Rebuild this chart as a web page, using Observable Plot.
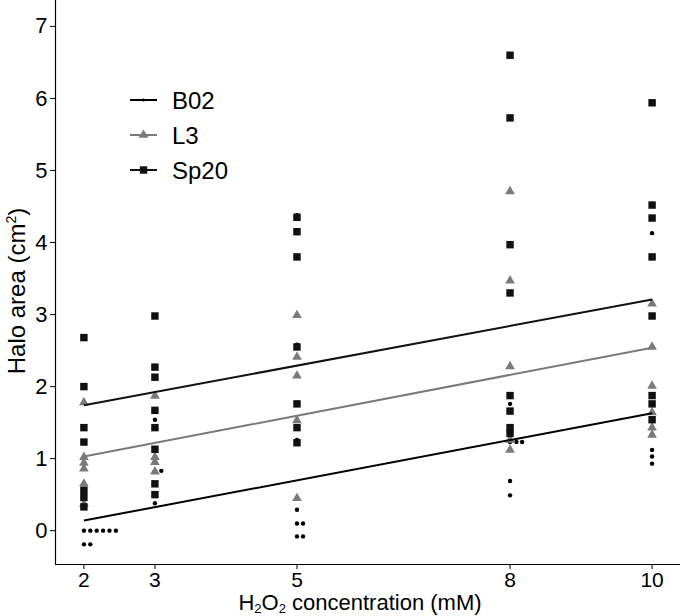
<!DOCTYPE html>
<html><head><meta charset="utf-8">
<script src="https://cdn.jsdelivr.net/npm/d3@7"></script>
<script src="https://cdn.jsdelivr.net/npm/@observablehq/plot@0.6"></script>
<style>body{margin:0;background:#fff} svg{display:block}</style>
</head><body><div id="chart"></div>
<script>
// concentrations (tick labels)
const concentrations = [2, 3, 5, 8, 10];
const yTicks = [0, 1, 2, 3, 4, 5, 6, 7];

// B02 (small dots) - repeated values are shown side by side
const b02X = [2, 2.09, 2.18, 2.27, 2.36, 2.45, 2, 2.09,
              3, 3, 3.09, 3,
              5, 5, 5, 5, 5, 5.085, 5, 5.085,
              8, 8, 8.09, 8.17, 8, 8,
              10, 10, 10, 10];
const b02Y = [0, 0, 0, 0, 0, 0, -0.19, -0.19,
              1.54, 0.83, 0.83, 0.38,
              4.38, 2.58, 1.26, 0.29, 0.10, 0.10, -0.08, -0.08,
              1.76, 1.23, 1.23, 1.23, 0.69, 0.49,
              4.13, 1.12, 1.03, 0.93];

// L3 (grey triangles)
const l3X = [2, 2, 2, 2, 2, 2,
             3, 3, 3, 3,
             5, 5, 5, 5, 5,
             8, 8, 8, 8, 8,
             10, 10, 10, 10, 10, 10];
const l3Y = [1.78, 1.02, 0.94, 0.86, 0.65, 0.37,
             1.87, 1.02, 0.95, 0.82,
             2.99, 2.41, 2.15, 1.53, 0.45,
             4.71, 3.47, 2.28, 1.26, 1.12,
             3.15, 2.55, 2.01, 1.64, 1.43, 1.33];

// Sp20 (black squares)
const sp20X = [2, 2, 2, 2, 2, 2, 2,
               3, 3, 3, 3, 3, 3, 3, 3,
               5, 5, 5, 5, 5, 5, 5,
               8, 8, 8, 8, 8, 8, 8, 8,
               10, 10, 10, 10, 10, 10, 10, 10];
const sp20Y = [2.68, 2.0, 1.43, 1.23, 0.56, 0.46, 0.33,
               2.98, 2.27, 2.13, 1.67, 1.43, 1.13, 0.65, 0.50,
               4.35, 4.15, 3.80, 2.55, 1.76, 1.43, 1.22,
               6.6, 5.73, 3.97, 3.30, 1.875, 1.66, 1.43, 1.35,
               5.94, 4.52, 4.34, 3.80, 2.98, 1.875, 1.76, 1.54];

// fitted regression lines (value at 2 mM and at 10 mM)
const strains = ["B02", "L3", "Sp20"];
const fitAt2 = [0.14, 1.03, 1.74];
const fitAt10 = [1.63, 2.54, 3.21];
const fitRange = [2, 10];

const strainColors = ["#000000", "#7a7a7a", "#111111"];
const strainSymbols = ["circle", "triangle", "square"];
const strainR = [2.2, 3.6, 4.2];

const b02 = b02X.map((x, i) => ({x, y: b02Y[i]}));
const l3 = l3X.map((x, i) => ({x, y: l3Y[i]}));
const sp20 = sp20X.map((x, i) => ({x, y: sp20Y[i]}));
const fits = strains.map((s, i) => ({strain: s, x1: fitRange[0], x2: fitRange[1], y1: fitAt2[i], y2: fitAt10[i], color: strainColors[i]}));

const xDomain = [1.6, 10.4];
const yDomain = [-0.47, 7.36];
const font = "'Liberation Sans', Arial, sans-serif";

const plot = Plot.plot({
  width: 680, height: 616,
  marginLeft: 55, marginRight: 0, marginTop: 0, marginBottom: 52,
  style: {fontFamily: font, fontSize: "22px", color: "#000", background: "#fff"},
  x: {domain: xDomain, label: null},
  y: {domain: yDomain, label: null},
  marks: [
    Plot.axisX({ticks: concentrations, tickSize: 5, tickPadding: 3, label: null, tickFormat: d => String(d), fontSize: 21}),
    Plot.axisY({ticks: yTicks, tickSize: 5, tickPadding: 3, label: null, fontSize: 22}),
    Plot.ruleX([xDomain[0]], {stroke: "#000", strokeWidth: 1.2}),
    Plot.ruleY([yDomain[0]], {stroke: "#000", strokeWidth: 1.2}),
    Plot.dot(b02, {x: "x", y: "y", r: strainR[0], symbol: strainSymbols[0], fill: strainColors[0], stroke: null}),
    Plot.dot(l3, {x: "x", y: "y", r: strainR[1], symbol: strainSymbols[1], fill: strainColors[1], stroke: null}),
    Plot.dot(sp20, {x: "x", y: "y", r: strainR[2], symbol: strainSymbols[2], fill: strainColors[2], stroke: null}),
    Plot.link(fits, {x1: "x1", x2: "x2", y1: "y1", y2: "y2", stroke: "color", strokeWidth: 2})
  ]
});

document.getElementById("chart").appendChild(plot);
const svg = d3.select(plot);

// Y axis title
const yt = svg.append("text")
  .attr("transform", "translate(25,291) rotate(-90)")
  .attr("text-anchor", "middle")
  .attr("font-family", font).attr("font-size", 24).attr("fill", "#000");
yt.append("tspan").text("Halo area (cm");
yt.append("tspan").attr("font-size", 14).attr("dy", -9).text("2");
yt.append("tspan").attr("dy", 9).text(")");

// X axis title
const xt = svg.append("text")
  .attr("x", 360).attr("y", 610)
  .attr("text-anchor", "middle")
  .attr("font-family", font).attr("font-size", 22).attr("fill", "#000");
xt.append("tspan").text("H");
xt.append("tspan").attr("font-size", 13).attr("dy", 3).text("2");
xt.append("tspan").attr("dy", -3).text("O");
xt.append("tspan").attr("font-size", 13).attr("dy", 3).text("2");
xt.append("tspan").attr("dy", -3).text(" concentration (mM)");

// Legend
const legendY = [100, 135, 170];
const lg = svg.append("g");
strains.forEach((s, i) => {
  const g = lg.append("g").attr("transform", `translate(0,${legendY[i]})`);
  g.append("line").attr("x1", 130).attr("x2", 157).attr("y1", 0).attr("y2", 0)
    .attr("stroke", strainColors[i]).attr("stroke-width", 2);
  const sym = {circle: d3.symbolCircle, triangle: d3.symbolTriangle, square: d3.symbolSquare}[strainSymbols[i]];
  const rr = i === 0 ? 1.6 : strainR[i];
  g.append("path").attr("transform", "translate(143.5,0)")
    .attr("d", d3.symbol(sym, Math.PI * rr * rr)())
    .attr("fill", strainColors[i]);
  g.append("text").attr("x", 172).attr("y", 0).attr("dy", "0.36em")
    .attr("text-anchor", "start")
    .attr("font-family", font).attr("font-size", 24).attr("fill", "#000").text(s);
});
</script>
</body></html>
